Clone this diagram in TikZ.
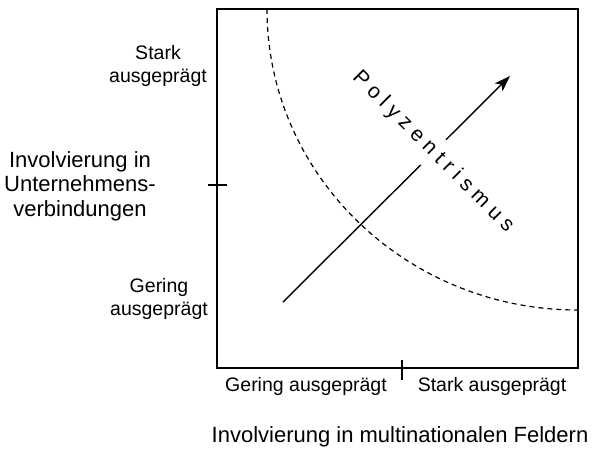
\documentclass[tikz,border=0pt]{standalone}
\usepackage{fontspec}
\setmainfont{Liberation Sans}
\newfontfamily\spacedfont[LetterSpace=28]{Liberation Sans}
\usetikzlibrary{arrows.meta}
\begin{document}
\begin{tikzpicture}[x=1pt,y=-1pt,
  frame/.style={line width=1.3pt},
  tickmark/.style={line width=1.1pt},
  border/.style={line width=1.2pt, dash pattern=on 5pt off 4pt},
  trend/.style={line width=1.4pt, -{Stealth[length=16pt,width=11pt,inset=4pt]}},
  title/.style={font=\fontsize{22}{24.5}\selectfont, align=center},
  level/.style={font=\fontsize{19.5}{23}\selectfont, align=center},
  trendlabel/.style={font=\spacedfont\fontsize{21}{24}\selectfont, rotate=-45,
    fill=white, inner xsep=0pt, inner ysep=8pt}]
\useasboundingbox (0,0) rectangle (593,451);

% axes frame
\coordinate (tl) at (217,9);
\coordinate (br) at (578,368);
\draw[frame] (tl) rectangle (br);

% centre ticks on both axes
\coordinate (yt0) at (208,185); \coordinate (yt1) at (227,185);
\coordinate (xt0) at (402,360); \coordinate (xt1) at (402,380);
\draw[tickmark] (yt0) -- (yt1);
\draw[tickmark] (xt0) -- (xt1);

% dashed boundary curve (quarter ellipse around the top right corner)
\coordinate (c0) at (267,9);
\draw[border] (c0) arc[start angle=180, end angle=90, x radius=311, y radius=301];

% trend arrow with its label crossing it
\coordinate (a0) at (283,302);
\coordinate (a1) at (510,76);
\draw[trend] (a0) -- (a1);
\node[trendlabel] (poly) at (433,152) {Polyzentrismus};

% vertical axis labels
\node[level] (ystark) at (158,66) {Stark\\ausgeprägt};
\node[level] (ygering) at (159,299) {Gering\\ausgeprägt};
\node[title] (ytitle) at (80,186) {Involvierung in\\Unternehmens-\\verbindungen};

% horizontal axis labels
\node[level] (xgering) at (306,386) {Gering ausgeprägt};
\node[level] (xstark) at (492,386) {Stark ausgeprägt};
\node[title] (xtitle) at (400,437) {Involvierung in multinationalen Feldern};
\end{tikzpicture}
\end{document}
